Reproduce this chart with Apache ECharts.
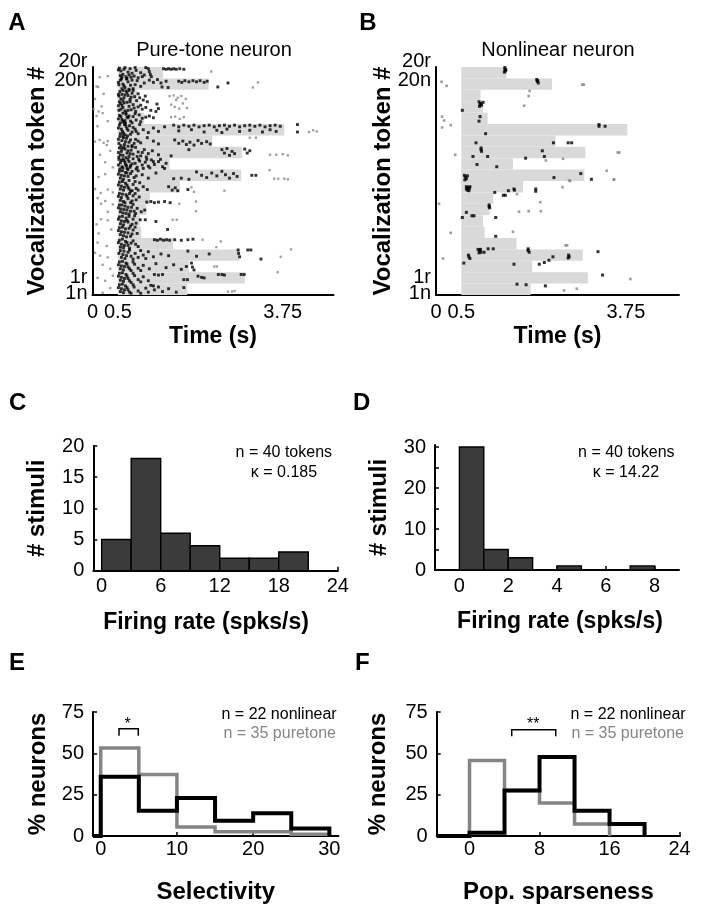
<!DOCTYPE html>
<html><head><meta charset="utf-8">
<script src="https://cdn.jsdelivr.net/npm/echarts@6/dist/echarts.min.js"></script>
<style>html,body{margin:0;padding:0;background:#fff}#c{width:702px;height:912px}</style>
</head><body><div id="c"></div>
<script>
// ---------- data ----------
const tokenLabels = ['1n', '1r', '20n', '20r'];
const tokenLabelPos = [0.3, 3.1, 37.7, 40];
const rasterTimeTicks = [0, 0.5, 3.75];
// stimulus end time (s) for token pairs 1..20 (onset 0.5 s)
const stimDur = [1.87, 3.0, 1.9, 2.9, 1.59, 0.96, 0.93, 1.06, 1.13, 1.72, 2.93, 1.52, 2.95, 2.36, 3.78, 1.02, 0.93, 0.88, 2.29, 1.39];

const rasterABlack = [
[0.53,39.8],[0.56,39.3],[0.6,38.7],[0.62,39.6],[0.66,38.3],[0.7,39.1],[0.74,39.7],[0.78,38.9],[0.82,38.4],[0.86,39.4],[0.9,38.1],[0.95,39.0],[1.02,38.6],[1.1,39.7],[1.12,39.2],[1.14,38.7],[1.16,38.3],[0.68,38.0],[0.58,38.2],
[0.51,39.5],[0.55,38.5],[0.64,39.9],[0.72,38.6],[0.76,38.2],[0.84,39.9],[0.98,38.3],[1.05,39.9],
[1.40,39.7],[1.45,39.6],[1.5,39.7],[1.55,39.6],[1.6,39.7],[1.65,39.6],[1.72,39.7],[1.8,39.6],
[0.55,37.7],[0.6,37.0],[0.64,36.4],[0.7,37.4],[0.75,36.8],[0.8,36.2],[0.88,37.6],[0.52,36.9],[0.58,36.2],[0.67,37.9],[1.12,37.7],[1.2,37.3],[1.28,37.8],[1.35,37.2],[1.45,37.5],[1.7,37.5],[1.76,37.3],[1.82,37.6],[1.9,37.4],[1.98,37.6],[2.05,37.4],[2.12,37.6],[2.2,37.3],[2.26,37.5],[1.37,36.5],[1.49,36.4],[2.47,36.5],[2.67,37.2],
[0.51,37.3],[0.57,37.9],[0.62,36.7],[0.72,36.1],[0.78,37.7],[0.84,36.9],[0.95,36.6],[1.02,37.2],
[0.54,35.7],[0.58,35.2],[0.62,34.6],[0.66,35.8],[0.7,35.0],[0.74,34.3],[0.78,35.4],[0.83,34.8],[0.87,34.1],[0.93,34.6],[1.0,34.2],[1.08,33.9],[1.27,33.5],[0.6,34.1],[0.52,34.9],[0.68,35.5],[0.8,35.9],
[0.51,35.2],[0.56,34.4],[0.64,35.1],[0.72,35.9],[0.76,34.7],[0.9,35.3],[1.04,34.9],[0.6,35.9],
[0.55,33.6],[0.6,32.9],[0.64,32.3],[0.68,33.8],[0.72,33.1],[0.76,32.5],[0.8,33.4],[0.85,32.2],[0.9,33.0],[0.98,32.6],[1.05,32.9],[1.15,32.4],[1.25,32.2],[1.3,32.7],[0.52,32.4],[0.58,33.3],[0.66,32.0],
[0.51,33.2],[0.56,32.6],[0.62,33.7],[0.7,32.4],[0.74,33.9],[0.82,32.8],[0.95,33.3],[0.53,33.9],
[0.53,31.5],[0.58,30.8],[0.62,30.3],[0.66,31.7],[0.7,31.1],[0.75,30.5],[0.8,31.3],[0.86,30.7],[0.92,31.6],[0.98,31.0],[1.05,31.2],[1.12,31.4],[1.2,31.1],[0.65,30.1],[0.55,30.2],[0.6,31.9],[0.72,31.4],
[0.51,30.9],[0.56,31.3],[0.64,30.6],[0.68,31.2],[0.78,30.2],[0.84,31.8],[0.95,30.4],[0.6,30.5],
[0.53,29.8],[0.57,29.1],[0.61,28.4],[0.66,29.6],[0.7,28.9],[0.75,28.2],[0.8,29.4],[0.86,28.7],[0.93,29.9],[1.0,29.0],[1.1,28.5],[1.2,29.3],[1.3,28.7],[1.42,29.5],[0.55,28.3],[0.63,29.9],
[0.51,29.3],[0.59,28.7],[0.64,28.1],[0.68,29.2],[0.73,29.7],[0.78,28.6],[0.84,29.1],[0.9,28.3],
[1.6,29.8],[1.7,29.5],[1.8,29.8],[1.9,29.6],[2.0,29.8],[2.1,29.5],[2.2,29.7],[2.3,29.8],[2.4,29.5],[2.5,29.7],[2.6,29.8],[2.7,29.6],[2.8,29.8],[2.9,29.5],[3.0,29.7],[3.1,29.8],[3.2,29.6],[3.3,29.8],[3.4,29.5],[3.5,29.7],[3.6,29.8],[3.7,29.6],
[1.7,28.8],[1.95,29.0],[2.2,28.6],[2.45,28.9],[2.55,28.5],[2.65,29.1],[2.9,28.7],[3.1,28.9],[3.35,28.6],[3.5,29.0],[3.62,28.7],[4.04,29.9],[4.04,28.6],
[0.54,27.8],[0.58,27.1],[0.63,26.4],[0.67,27.5],[0.72,26.8],[0.78,26.2],[0.85,27.3],[0.95,26.7],[1.08,27.6],[1.2,27.0],[1.3,26.5],[1.62,27.2],[1.7,26.6],[1.78,27.0],[1.85,26.4],[1.92,26.8],[2.0,26.3],[2.08,27.1],[2.15,26.6],[2.25,26.9],[2.32,26.5],[0.52,26.6],[0.6,27.9],[0.7,26.1],
[0.51,27.3],[0.56,26.2],[0.61,27.6],[0.65,26.9],[0.69,27.9],[0.75,27.2],[0.82,26.6],[0.9,27.0],
[0.53,25.8],[0.57,25.2],[0.6,24.5],[0.64,25.6],[0.68,24.9],[0.72,24.3],[0.76,25.4],[0.8,24.7],[0.85,25.9],[0.9,25.1],[0.95,24.4],[1.02,25.5],[1.1,24.8],[1.18,25.3],[1.3,24.6],[2.55,25.5],[2.6,24.9],[2.65,25.7],[2.7,24.5],[2.75,25.2],[2.8,24.8],[3.0,25.6],[3.05,24.9],[3.1,25.3],[1.55,24.4],[1.9,25.5],[0.52,24.2],[0.62,25.9],
[0.51,25.0],[0.55,24.6],[0.58,25.7],[0.66,24.1],[0.7,25.3],[0.74,24.8],[0.78,26.0],[0.88,24.3],[0.98,25.0],[1.06,24.2],
[0.52,23.8],[0.55,23.2],[0.58,22.5],[0.62,23.6],[0.65,22.9],[0.68,22.2],[0.72,23.4],[0.75,22.7],[0.8,23.9],[0.84,23.1],[0.88,22.4],[0.93,23.5],[0.98,22.8],[1.04,23.3],[1.1,22.6],[1.16,23.7],[1.22,22.9],[1.3,23.4],[1.38,22.5],[1.45,23.1],[0.54,22.1],[0.6,23.9],[0.7,22.0],
[0.51,22.8],[0.57,23.6],[0.6,22.3],[0.64,23.3],[0.67,22.7],[0.7,23.8],[0.74,22.4],[0.78,23.0],[0.86,22.1],[0.91,23.8],[1.0,22.2],[1.07,23.8],[1.13,22.3],[1.2,23.4],[1.34,23.8],[1.42,22.2],
[0.53,21.7],[0.57,21.0],[0.61,20.3],[0.65,21.5],[0.7,20.8],[0.75,21.3],[0.82,20.6],[0.9,21.8],[0.98,21.1],[1.1,20.5],[1.25,21.4],[1.6,20.4],[1.75,20.5],[1.9,20.3],[2.05,21.6],[2.15,21.0],[2.25,20.6],[2.35,21.4],[2.45,20.9],[2.55,21.7],[2.62,21.1],[2.7,20.5],[2.78,21.3],[2.85,20.8],[3.14,21.0],[3.22,21.0],
[0.51,21.2],[0.55,20.5],[0.59,21.8],[0.63,20.9],[0.68,21.4],[0.72,20.1],[0.78,21.7],[0.86,20.9],
[0.53,19.8],[0.57,19.1],[0.61,18.4],[0.65,19.6],[0.7,18.9],[0.75,18.2],[0.8,19.4],[0.86,18.7],[0.93,19.7],[1.0,19.0],[1.08,18.5],[1.5,19.0],[1.57,18.4],[1.63,18.8],[1.68,18.3],[1.88,18.5],
[0.51,19.3],[0.55,18.6],[0.59,19.9],[0.63,18.9],[0.68,19.3],[0.72,18.6],[0.78,18.3],[0.84,19.9],[0.9,18.4],
[0.53,17.8],[0.57,17.1],[0.61,16.4],[0.66,17.6],[0.7,16.9],[0.75,16.2],[0.8,17.4],[0.86,16.7],[0.92,17.2],[1.07,16.3],[1.15,16.4],[1.22,16.2],[1.3,16.3],[1.42,16.4],[1.53,16.2],
[0.51,17.3],[0.55,16.6],[0.59,17.7],[0.64,16.2],[0.68,17.3],[0.73,17.8],[0.78,16.5],[0.84,17.8],
[0.53,15.8],[0.56,15.1],[0.6,14.4],[0.64,15.6],[0.68,14.9],[0.72,14.2],[0.77,15.4],[0.82,14.7],[0.88,15.2],[0.96,14.6],[1.03,14.9],
[0.51,15.3],[0.55,14.6],[0.58,15.8],[0.62,15.0],[0.66,14.3],[0.7,15.4],[0.75,14.7],[0.8,15.9],[0.85,14.3],
[0.53,13.7],[0.57,13.0],[0.61,12.3],[0.66,13.5],[0.7,12.8],[0.75,12.1],[0.8,13.3],[0.86,12.6],[0.94,13.2],[1.04,13.2],[1.25,12.9],
[0.51,13.3],[0.55,12.5],[0.59,13.8],[0.63,12.9],[0.68,13.1],[0.72,13.8],[0.78,12.4],[0.83,13.9],
[0.53,11.8],[0.57,11.1],[0.61,10.4],[0.65,11.6],[0.7,10.9],[0.75,10.3],[0.8,11.4],[0.88,10.8],[1.48,11.5],
[0.51,11.3],[0.55,10.6],[0.59,11.9],[0.63,11.0],[0.67,10.2],[0.72,11.7],[0.78,10.7],[0.84,11.9],
[0.53,9.6],[0.57,8.9],[0.61,8.3],[0.65,9.4],[0.7,8.7],[0.76,9.1],[0.9,8.5],[1.22,9.7],[1.28,9.6],[1.34,9.8],[1.4,9.6],[1.46,9.7],[1.52,9.6],[1.62,9.7],[1.75,9.6],[1.88,9.7],[1.98,9.8],
[0.51,9.2],[0.55,8.4],[0.59,9.8],[0.63,8.7],[0.68,9.2],[0.73,8.2],[0.8,9.5],[0.85,8.9],
[0.55,7.8],[0.6,7.1],[0.64,6.4],[0.7,7.5],[0.76,6.8],[0.84,7.3],[0.9,6.6],[1.0,7.0],[1.1,7.6],[1.2,6.7],[1.35,7.2],[1.5,6.9],[1.88,7.7],[2.05,6.8],[2.3,7.2],[2.87,7.9],[2.88,7.3],[2.9,6.7],[3.06,7.9],[3.12,7.9],[3.32,6.3],
[0.52,7.3],[0.57,6.6],[0.62,7.7],[0.67,6.9],[0.73,7.9],[0.8,6.3],[0.95,7.8],[1.05,6.4],
[0.53,5.8],[0.57,5.1],[0.61,4.4],[0.66,5.6],[0.7,4.9],[0.76,4.3],[0.83,5.4],[0.9,4.7],[1.0,5.2],[1.12,4.6],[1.25,5.5],[1.45,4.8],[1.6,5.3],[1.75,4.5],[1.85,5.0],[1.95,5.6],[1.97,4.9],[2.0,4.4],
[0.51,5.3],[0.55,4.6],[0.59,5.9],[0.63,5.0],[0.68,5.4],[0.73,4.6],[0.8,5.8],[0.95,4.3],
[0.53,3.8],[0.57,3.1],[0.61,2.4],[0.66,3.6],[0.7,2.9],[0.76,2.2],[0.83,3.4],[0.9,2.7],[1.0,3.2],[1.1,2.5],[1.22,3.6],[1.3,3.5],[1.38,3.6],[1.8,2.7],[1.87,2.7],[2.08,3.3],[2.15,3.1],[2.2,3.0],[2.48,3.6],[2.55,3.6],[2.6,3.5],[2.93,3.6],[2.99,3.6],
[0.51,3.3],[0.55,2.6],[0.59,3.9],[0.63,2.9],[0.68,3.3],[0.73,2.5],[0.8,3.8],[0.95,2.3],
[0.53,1.8],[0.57,1.1],[0.61,0.4],[0.65,1.6],[0.7,0.9],[0.76,0.3],[0.82,1.4],[0.9,0.7],[1.05,1.2],[1.15,1.7],[1.22,0.9],[1.3,1.4],[1.38,0.6],[1.5,1.1],[1.65,0.5],[1.8,1.3],
[0.51,1.3],[0.55,0.6],[0.59,1.9],[0.63,0.9],[0.68,1.3],[0.73,0.5],[0.8,1.8],[0.95,0.3],[1.1,0.5],[1.2,1.6]
];
const rasterAGray = [
[0.14,38.2],[0.3,38.4],[0.08,36.6],[2.34,39.2],[0.11,36.5],[3.26,37.3],[3.16,36.4],[1.52,34.9],[1.6,35.0],[1.68,34.6],[1.75,34.9],[1.84,34.4],[1.65,34.2],[1.55,33.4],[1.62,33.0],[1.78,33.6],[1.86,32.8],[0.05,34.4],[0.22,35.3],[0.02,32.6],[0.12,32.2],[0.2,31.9],[0.08,31.4],[0.18,33.1],[1.71,32.7],[1.55,31.2],[1.63,31.3],[1.72,30.9],[1.8,31.2],[0.3,30.5],[0.1,29.6],[4.27,28.6],[4.35,28.9],[4.42,28.7],[0.05,26.9],[0.14,27.2],[0.22,26.7],[0.28,26.3],[0.3,27.0],[3.1,27.6],[3.22,27.6],[0.35,25.3],[0.15,24.6],[3.5,24.6],[3.62,24.6],[3.75,24.7],[3.85,24.5],[0.25,23.3],[0.4,22.4],[3.49,21.9],[3.58,20.4],[3.66,20.4],[3.78,20.4],[3.85,20.3],[0.12,20.7],[0.25,21.2],[0.05,18.6],[0.16,17.9],[0.3,18.5],[0.4,18.0],[2.6,18.3],[1.95,18.9],[2.0,18.1],[1.71,16.0],[2.04,16.4],[0.1,17.0],[0.25,16.5],[2.04,14.7],[0.17,16.0],[0.4,15.9],[0.3,14.6],[1.58,13.2],[1.66,13.2],[0.17,13.3],[0.3,13.1],[0.08,12.4],[0.37,11.5],[0.12,10.8],[2.17,9.7],[2.53,9.4],[0.1,9.2],[0.28,8.6],[2.44,8.4],[3.91,8.0],[3.71,6.7],[0.05,7.4],[0.15,6.9],[0.3,6.6],[2.4,5.0],[2.45,5.0],[3.65,4.0],[0.2,5.3],[0.35,4.6],[0.1,3.0],[0.25,2.5],[0.4,3.4],[2.67,0.6],[2.75,0.6],[2.8,0.7],[0.2,0.4],[0.35,1.2]
];
const rasterBBlack = [
[1.36,39.9],[1.36,39.6],[1.37,39.3],[1.35,39.1],[1.38,39.5],
[1.99,37.8],[2.0,37.5],[2.02,37.2],[2.01,37.6],
[0.85,33.9],[0.88,33.6],[0.9,33.3],[0.86,33.1],[0.93,33.8],[0.87,33.4],
[0.52,32.4],[0.87,31.3],[0.85,30.5],
[3.22,29.9],[3.22,29.6],[3.34,29.6],
[0.98,28.3],[2.32,26.7],[2.61,26.7],[2.68,26.7],[0.79,26.7],
[0.89,25.8],[0.89,25.5],[0.9,25.2],
[0.73,24.3],[1.02,24.3],[2.1,25.3],[1.77,24.0],[2.14,24.3],
[0.81,22.9],[1.2,22.5],[2.86,21.3],[2.33,20.6],[3.07,20.3],
[0.56,21.0],[0.58,20.7],[0.6,20.4],[0.57,20.2],[0.62,20.9],
[0.6,19.0],[0.63,18.9],[0.66,18.7],[0.62,18.4],[0.65,18.3],[0.6,18.6],[0.67,19.0],
[1.16,18.0],[1.33,17.5],[1.37,17.5],[1.43,18.3],[1.54,18.6],[1.55,18.4],[1.97,18.6],[1.97,18.2],
[1.05,15.8],[1.05,15.5],[1.06,15.3],
[0.6,14.5],[0.52,13.6],[0.71,13.9],[0.75,13.9],[1.18,13.6],
[1.18,10.3],
[0.83,8.0],[0.86,7.8],[0.89,7.5],[0.85,7.4],[0.88,8.0],[1.03,8.1],[1.13,8.1],[0.95,7.5],
[0.64,7.0],[0.65,6.7],[0.67,6.4],
[0.55,5.6],[1.82,8.1],[1.82,7.8],[1.84,7.5],[1.54,5.4],
[2.62,7.0],[2.63,6.7],[2.61,6.5],
[3.2,7.6],[2.04,5.4],[2.14,5.7],[2.23,6.1],[2.31,6.7],
[3.29,3.5],[1.6,1.9],[1.78,1.8],[2.16,1.6]
];
const rasterBGray = [
[0.11,37.4],[0.21,36.7],[2.89,36.9],[2.92,36.9],[1.85,35.8],[1.83,34.9],[1.74,33.2],[0.12,31.3],[0.16,30.6],[0.29,29.8],[0.12,29.4],[0.38,24.6],[3.59,25.0],[3.62,25.0],[2.17,23.6],[2.51,23.9],[3.37,21.8],[3.52,20.3],[2.65,20.0],[0.06,16.0],[1.6,17.7],[2.5,18.9],[2.63,20.1],[3.51,20.2],[2.06,16.3],[1.64,14.6],[1.83,14.7],[2.07,14.7],[0.29,10.9],[1.52,11.1],[2.56,8.7],[2.59,8.7],[0.14,6.4],[3.84,2.8],[2.53,0.8],[2.78,1.1]
];

const histCEdges = [0, 3, 6, 9, 12, 15, 18, 21];
const histCCounts = [5, 18, 6, 4, 2, 2, 3];
const histCTicks = [0, 6, 12, 18, 24];
const histDEdges = [0, 1, 2, 3, 4, 5, 6, 7, 8];
const histDCounts = [30, 5, 3, 0, 1, 0, 0, 1];
const histDTicks = [0, 2, 4, 6, 8];

const selEdges = [0, 5, 10, 15, 20, 25, 30];
const selNonlinear = [35.8, 15.3, 23, 9.2, 13.7, 4.5];
const selPuretone = [53.2, 37.2, 5.5, 2.5, 2.5, 1];
const selTicks = [0, 10, 20, 30];
const spEdges = [0, 4, 8, 12, 16, 20];
const spNonlinear = [2, 27.5, 47.8, 15.2, 7.3];
const spPuretone = [45.6, 27.5, 20, 7.3];
const spTicks = [0, 8, 16, 24];
const pctTicks = [0, 25, 50, 75];
const selBracket = [[2.4, 60.7], [2.4, 64.8], [4.93, 64.8], [4.93, 60.7]];
const spBracket = [[4.82, 60.3], [4.82, 64.3], [9.85, 64.3], [9.85, 60.3]];

// ---------- helpers ----------
const FR = "'Liberation Sans', Arial, Helvetica, sans-serif";
const GRAY = '#858585';

function stepPoints(edges, vals, lead) {
  const pts = [];
  if (lead != null) pts.push([lead, 0]);
  pts.push([edges[0], 0]);
  vals.forEach((v, i) => { pts.push([edges[i], v]); pts.push([edges[i + 1], v]); });
  pts.push([edges[vals.length], 0]);
  return pts;
}
function axisLine() { return { show: true, onZero: false, lineStyle: { color: '#000', width: 2 } }; }
function xAx(gi, min, max, ticks, name, o) {
  o = o || {};
  return {
    type: 'value', gridIndex: gi, min, max,
    axisLine: axisLine(),
    axisTick: o.ticks ? { show: true, inside: true, length: 4, customValues: ticks, lineStyle: { color: '#000', width: 1.5 } } : { show: false },
    splitLine: { show: false },
    axisLabel: { customValues: ticks, color: '#000', fontSize: 20, fontFamily: FR, margin: o.margin != null ? o.margin : 7, hideOverlap: false },
    name, nameLocation: 'middle', nameGap: o.gap || 40,
    nameTextStyle: { color: '#000', fontSize: o.nfs || 23, fontWeight: 'bold', fontFamily: FR, padding: o.npad || 0 }
  };
}
function yAx(gi, min, max, ticks, tickVals, name, o) {
  o = o || {};
  return {
    type: 'value', gridIndex: gi, min, max,
    axisLine: axisLine(),
    axisTick: tickVals ? { show: true, inside: true, length: 4, customValues: tickVals, lineStyle: { color: '#000', width: 1.5 } } : { show: false },
    splitLine: { show: false },
    axisLabel: Object.assign({ customValues: ticks, color: '#000', fontSize: 20, fontFamily: FR, margin: 9, hideOverlap: false }, o.label || {}),
    name, nameLocation: 'middle', nameGap: o.gap || 43,
    nameTextStyle: { color: '#000', fontSize: 24, fontWeight: 'bold', fontFamily: FR }
  };
}
function tokenFormatter(v) {
  const i = tokenLabelPos.indexOf(v);
  const s = i >= 0 ? tokenLabels[i] : '';
  return v === 40 ? '{up|' + s + '}' : s;
}
function tokenLabelOpt(vals) {
  return {
    customValues: vals, fontSize: 20, fontFamily: FR, color: '#000', margin: 5, lineHeight: 14, hideOverlap: false,
    formatter: tokenFormatter,
    rich: { up: { fontSize: 20, fontFamily: FR, color: '#000', lineHeight: 14, padding: [0, 0, 11, 0] } }
  };
}
// second, line-less y axis carrying the inner token labels (avoids label-overlap culling)
function tokenAxis2(gi) {
  return {
    type: 'value', gridIndex: gi, min: 0, max: 40, position: 'left',
    axisLine: { show: false }, axisTick: { show: false }, splitLine: { show: false },
    axisLabel: tokenLabelOpt([tokenLabelPos[1], tokenLabelPos[2]])
  };
}
function stimSeries(xi) {
  return {
    type: 'custom', xAxisIndex: xi, yAxisIndex: xi, silent: true, z: 1,
    data: stimDur.map((d, i) => [2 * i, 2 * i + 2, d]),
    encode: { x: 2, y: [0, 1] },
    renderItem: (params, api) => {
      const p0 = api.coord([0.5, api.value(1)]);
      const p1 = api.coord([api.value(2), api.value(0)]);
      return { type: 'rect', shape: { x: p0[0], y: p0[1], width: p1[0] - p0[0], height: p1[1] - p0[1] }, style: { fill: '#d9d9d9' } };
    }
  };
}
function histSeries(xi, edges, counts) {
  return {
    type: 'custom', xAxisIndex: xi, yAxisIndex: xi, silent: true,
    data: counts.map((c, i) => [edges[i], edges[i + 1], c]).filter(d => d[2] > 0),
    encode: { x: [0, 1], y: 2 },
    renderItem: (params, api) => {
      const p0 = api.coord([api.value(0), api.value(2)]);
      const p1 = api.coord([api.value(1), 0]);
      return { type: 'rect', shape: { x: p0[0], y: p0[1], width: p1[0] - p0[0], height: p1[1] - p0[1] }, style: { fill: '#3b3b3b', stroke: '#000', lineWidth: 1.4 } };
    }
  };
}
function scatter(xi, data, color, size) {
  return { type: 'scatter', xAxisIndex: xi, yAxisIndex: xi, data, symbol: 'rect', symbolSize: size, itemStyle: { color }, silent: true, z: 3 };
}
function line(xi, data, color, width, z) {
  return { type: 'line', xAxisIndex: xi, yAxisIndex: xi, data, showSymbol: false, symbol: 'none', lineStyle: { color, width, cap: 'butt', join: 'miter' }, silent: true, z: z || 3 };
}
function txt(text, x, y, font, align, color) {
  return { type: 'text', x, y, silent: true, style: { text, font, fill: color || '#000', textAlign: align, align, textVerticalAlign: 'middle', verticalAlign: 'middle' } };
}

const option = {
  animation: false,
  backgroundColor: '#fff',
  grid: [
    { left: 92.5, top: 67, width: 241, height: 228 },
    { left: 436, top: 67, width: 243, height: 228 },
    { left: 93.3, top: 446, width: 244.5, height: 124.7 },
    { left: 435, top: 445, width: 244, height: 125 },
    { left: 93.1, top: 712, width: 245.4, height: 124 },
    { left: 436.7, top: 712, width: 243.3, height: 124 }
  ],
  xAxis: [
    xAx(0, 0, 4.75, rasterTimeTicks, 'Time (s)', { nfs: 23, gap: 30 }),
    xAx(1, 0, 4.8, rasterTimeTicks, 'Time (s)', { nfs: 23, gap: 30 }),
    xAx(2, -0.85, 24, histCTicks, 'Firing rate (spks/s)', { ticks: true, gap: 40, margin: 6, npad: [0, 19, 0, 0] }),
    xAx(3, -1, 9, histDTicks, 'Firing rate (spks/s)', { ticks: true, gap: 40, margin: 6, npad: [0, 0, 0, 6] }),
    xAx(4, -1, 31.2, selTicks, 'Selectivity', { ticks: true, gap: 44, margin: 3, nfs: 24 }),
    xAx(5, -3.75, 24.05, spTicks, 'Pop. sparseness', { ticks: true, gap: 44, margin: 3, nfs: 24 })
  ],
  yAxis: [
    yAx(0, 0, 40, null, null, 'Vocalization token #', { label: tokenLabelOpt([tokenLabelPos[0], tokenLabelPos[3]]), gap: 43 }),
    yAx(1, 0, 40, null, null, 'Vocalization token #', { label: tokenLabelOpt([tokenLabelPos[0], tokenLabelPos[3]]), gap: 41 }),
    yAx(2, 0, 20, [0, 5, 10, 15, 20], [0, 5, 10, 15, 20], '# stimuli', { gap: 44 }),
    yAx(3, 0, 30.5, [0, 10, 20, 30], [0, 5, 10, 15, 20, 25, 30], '# stimuli', { gap: 43.5 }),
    yAx(4, 0, 75, pctTicks, pctTicks, '% neurons', { gap: 42.5 }),
    yAx(5, 0, 75, pctTicks, pctTicks, '% neurons', { gap: 46.5 }),
    tokenAxis2(0),
    tokenAxis2(1)
  ],
  series: [
    stimSeries(0),
    scatter(0, rasterAGray, GRAY, 2.3),
    scatter(0, rasterABlack, '#000', 2.9),
    stimSeries(1),
    scatter(1, rasterBGray, GRAY, 2.6),
    scatter(1, rasterBBlack, '#000', 3),
    histSeries(2, histCEdges, histCCounts),
    histSeries(3, histDEdges, histDCounts),
    line(4, stepPoints(selEdges, selPuretone), GRAY, 3.5, 3),
    line(4, stepPoints(selEdges, selNonlinear, -1), '#000', 4, 4),
    line(4, selBracket, '#000', 1.5, 4),
    line(5, stepPoints(spEdges, spPuretone), GRAY, 3.5, 3),
    line(5, stepPoints(spEdges, spNonlinear, -3.75), '#000', 4, 4),
    line(5, spBracket, '#000', 1.5, 4)
  ],
  graphic: [
    txt('A', 8.3, 23.5, 'bold 24px ' + FR, 'left'),
    txt('B', 359.3, 23.5, 'bold 24px ' + FR, 'left'),
    txt('C', 9, 403.5, 'bold 24px ' + FR, 'left'),
    txt('D', 353, 403.5, 'bold 24px ' + FR, 'left'),
    txt('E', 9, 663.5, 'bold 24px ' + FR, 'left'),
    txt('F', 355, 663.5, 'bold 24px ' + FR, 'left'),
    txt('Pure-tone neuron', 214, 50, '20px ' + FR, 'center'),
    txt('Nonlinear neuron', 558, 50, '20px ' + FR, 'center'),
    txt('n = 40 tokens', 283.8, 452.7, '16px ' + FR, 'center'),
    txt('κ = 0.185', 284, 472.7, '16px ' + FR, 'center'),
    txt('n = 40 tokens', 626.3, 452.7, '16px ' + FR, 'center'),
    txt('κ = 14.22', 626, 472.7, '16px ' + FR, 'center'),
    txt('n = 22 nonlinear', 336.7, 715, '16px ' + FR, 'right'),
    txt('n = 35 puretone', 336, 734, '16px ' + FR, 'right', GRAY),
    txt('n = 22 nonlinear', 685.7, 715, '16px ' + FR, 'right'),
    txt('n = 35 puretone', 684, 734, '16px ' + FR, 'right', GRAY),
    txt('*', 127.7, 724.5, '16px ' + FR, 'center'),
    txt('**', 533.3, 725, '16px ' + FR, 'center')
  ]
};
const chart = echarts.init(document.getElementById('c'), null, { renderer: 'canvas' });
chart.setOption(option);
</script></body></html>
